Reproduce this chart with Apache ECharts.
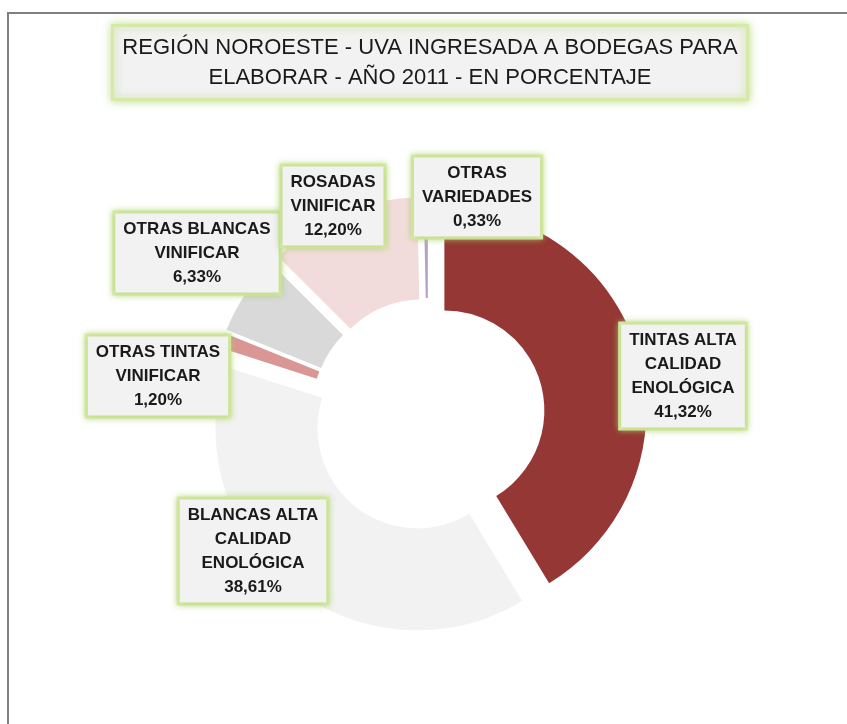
<!DOCTYPE html>
<html>
<head>
<meta charset="utf-8">
<title>Región Noroeste - uva ingresada a bodegas</title>
<script src="https://cdn.jsdelivr.net/npm/echarts@6/dist/echarts.min.js"></script>
<style>
    html, body { margin: 0; padding: 0; background: #fff; }
    #chart { width: 847px; height: 724px; }
</style>
</head>
<body>
<div id="chart"></div>
<script>
// datos
var categories = [
    'TINTAS ALTA\nCALIDAD\nENOLÓGICA',
    'BLANCAS ALTA\nCALIDAD\nENOLÓGICA',
    'OTRAS TINTAS\nVINIFICAR',
    'OTRAS BLANCAS\nVINIFICAR',
    'ROSADAS\nVINIFICAR',
    'OTRAS\nVARIEDADES'
];
var percentValues = [41.32, 38.61, 1.20, 6.33, 12.20, 0.33];

// estilo
var sliceColors = ['#953735', '#f2f2f2', '#d99694', '#d9d9d9', '#f2dcdb', '#b3a2c7'];
var labelPos = [[683, 376], [253, 551], [158, 376], [197, 253], [333, 206], [477, 197]];

var pieCenter = [428, 415];
var pieRadius = [100, 202];

var labelFont = "'Liberation Sans', Arial, sans-serif";

// anillo con todas las porciones separadas
var sliceData = categories.map(function (name, i) {
    return {
        name: name,
        value: percentValues[i],
        selected: true,
        itemStyle: { color: sliceColors[i] }
    };
});

// misma serie, invisible, solo para las etiquetas
var labelData = categories.map(function (name, i) {
    return { name: name, value: percentValues[i] };
});

var chart = echarts.init(document.getElementById('chart'));
chart.setOption({
    animation: false,
    backgroundColor: '#fff',
    title: {
        text: 'REGIÓN NOROESTE - UVA INGRESADA A BODEGAS PARA\nELABORAR - AÑO 2011 - EN PORCENTAJE',
        left: 420,
        top: 25,
        textAlign: 'center',
        padding: [8, 10, 7, 10],
        backgroundColor: '#f2f2f2',
        borderColor: '#d6e9a6',
        borderWidth: 3,
        shadowBlur: 8,
        shadowColor: 'rgba(170, 210, 100, 0.7)',
        textStyle: {
            fontFamily: labelFont,
            fontSize: 22,
            fontWeight: 'normal',
            color: '#1a1a1a',
            lineHeight: 30
        }
    },
    graphic: [{
        type: 'rect',
        silent: true,
        shape: { x: 8, y: 13, width: 900, height: 800 },
        style: { fill: 'none', stroke: '#808080', lineWidth: 2 }
    }],
    series: [{
        type: 'pie',
        center: pieCenter,
        radius: pieRadius,
        startAngle: 90,
        clockwise: true,
        selectedMode: 'multiple',
        selectedOffset: 17,
        silent: true,
        emphasis: { disabled: true },
        label: { show: false },
        labelLine: { show: false },
        data: sliceData
    }, {
        type: 'pie',
        center: pieCenter,
        radius: pieRadius,
        startAngle: 90,
        clockwise: true,
        silent: true,
        avoidLabelOverlap: false,
        emphasis: { disabled: true },
        itemStyle: { color: 'rgba(0,0,0,0)' },
        labelLine: { show: false },
        label: {
            show: true,
            formatter: function (p) {
                return p.name + '\n' + p.value.toFixed(2).replace('.', ',') + '%';
            },
            fontFamily: labelFont,
            fontSize: 17,
            fontWeight: 'bold',
            color: '#1a1a1a',
            lineHeight: 24,
            align: 'center',
            backgroundColor: '#f2f2f2',
            borderColor: '#d6e9a6',
            borderWidth: 3,
            shadowBlur: 6,
            shadowColor: 'rgba(170, 210, 100, 0.7)',
            padding: [4, 8, 3, 8]
        },
        labelLayout: function (params) {
            return {
                x: labelPos[params.dataIndex][0],
                y: labelPos[params.dataIndex][1],
                align: 'center',
                verticalAlign: 'middle'
            };
        },
        data: labelData
    }]
});
</script>
</body>
</html>
